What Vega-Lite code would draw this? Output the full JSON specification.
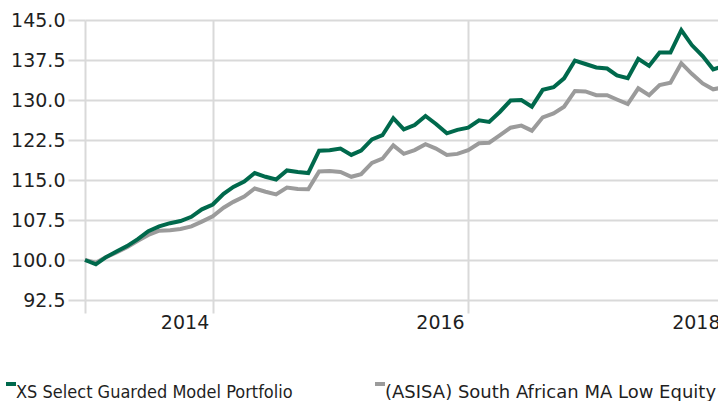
{
  "$schema": "https://vega.github.io/schema/vega-lite/v6.json",
  "autosize": "none",
  "width": 639,
  "height": 280,
  "padding": {"left": 85, "top": 20, "right": 0, "bottom": 101},
  "background": "white",
  "config": {
    "view": {"stroke": null},
    "font": "DejaVu Sans"
  },
  "data": {
    "values": [
      {"date": "2013-01-01", "xs": 100.0, "asisa": 100.0},
      {"date": "2013-02-01", "xs": 99.2, "asisa": 99.5},
      {"date": "2013-03-01", "xs": 100.5, "asisa": 100.5},
      {"date": "2013-04-01", "xs": 101.6, "asisa": 101.4},
      {"date": "2013-05-01", "xs": 102.6, "asisa": 102.4},
      {"date": "2013-06-01", "xs": 103.9, "asisa": 103.6},
      {"date": "2013-07-01", "xs": 105.4, "asisa": 104.7},
      {"date": "2013-08-01", "xs": 106.3, "asisa": 105.5},
      {"date": "2013-09-01", "xs": 106.9, "asisa": 105.6},
      {"date": "2013-10-01", "xs": 107.3, "asisa": 105.8},
      {"date": "2013-11-01", "xs": 108.1, "asisa": 106.3},
      {"date": "2013-12-01", "xs": 109.5, "asisa": 107.2},
      {"date": "2014-01-01", "xs": 110.4, "asisa": 108.2},
      {"date": "2014-02-01", "xs": 112.4, "asisa": 109.8},
      {"date": "2014-03-01", "xs": 113.7, "asisa": 110.9},
      {"date": "2014-04-01", "xs": 114.7, "asisa": 111.9},
      {"date": "2014-05-01", "xs": 116.3, "asisa": 113.4},
      {"date": "2014-06-01", "xs": 115.6, "asisa": 112.8},
      {"date": "2014-07-01", "xs": 115.1, "asisa": 112.3},
      {"date": "2014-08-01", "xs": 116.8, "asisa": 113.6},
      {"date": "2014-09-01", "xs": 116.5, "asisa": 113.3},
      {"date": "2014-10-01", "xs": 116.3, "asisa": 113.25},
      {"date": "2014-11-01", "xs": 120.5, "asisa": 116.6},
      {"date": "2014-12-01", "xs": 120.6, "asisa": 116.7},
      {"date": "2015-01-01", "xs": 120.9, "asisa": 116.5},
      {"date": "2015-02-01", "xs": 119.7, "asisa": 115.6},
      {"date": "2015-03-01", "xs": 120.5, "asisa": 116.1},
      {"date": "2015-04-01", "xs": 122.6, "asisa": 118.2},
      {"date": "2015-05-01", "xs": 123.4, "asisa": 119.0},
      {"date": "2015-06-01", "xs": 126.6, "asisa": 121.5},
      {"date": "2015-07-01", "xs": 124.5, "asisa": 119.9},
      {"date": "2015-08-01", "xs": 125.3, "asisa": 120.6},
      {"date": "2015-09-01", "xs": 127.0, "asisa": 121.7},
      {"date": "2015-10-01", "xs": 125.5, "asisa": 120.9},
      {"date": "2015-11-01", "xs": 123.75, "asisa": 119.7},
      {"date": "2015-12-01", "xs": 124.4, "asisa": 119.9},
      {"date": "2016-01-01", "xs": 124.8, "asisa": 120.6},
      {"date": "2016-02-01", "xs": 126.2, "asisa": 121.9},
      {"date": "2016-03-01", "xs": 125.9, "asisa": 122.0},
      {"date": "2016-04-01", "xs": 127.8, "asisa": 123.4},
      {"date": "2016-05-01", "xs": 129.9, "asisa": 124.8},
      {"date": "2016-06-01", "xs": 130.0, "asisa": 125.2},
      {"date": "2016-07-01", "xs": 128.75, "asisa": 124.25},
      {"date": "2016-08-01", "xs": 131.9, "asisa": 126.75},
      {"date": "2016-09-01", "xs": 132.4, "asisa": 127.5},
      {"date": "2016-10-01", "xs": 134.05, "asisa": 128.75},
      {"date": "2016-11-01", "xs": 137.4, "asisa": 131.7},
      {"date": "2016-12-01", "xs": 136.75, "asisa": 131.6},
      {"date": "2017-01-01", "xs": 136.1, "asisa": 130.9},
      {"date": "2017-02-01", "xs": 135.9, "asisa": 130.9},
      {"date": "2017-03-01", "xs": 134.6, "asisa": 130.1},
      {"date": "2017-04-01", "xs": 134.1, "asisa": 129.25},
      {"date": "2017-05-01", "xs": 137.7, "asisa": 132.2},
      {"date": "2017-06-01", "xs": 136.4, "asisa": 130.9},
      {"date": "2017-07-01", "xs": 138.9, "asisa": 132.8},
      {"date": "2017-08-01", "xs": 138.9, "asisa": 133.25},
      {"date": "2017-09-01", "xs": 143.1, "asisa": 136.9},
      {"date": "2017-10-01", "xs": 140.3, "asisa": 134.9},
      {"date": "2017-11-01", "xs": 138.25, "asisa": 133.1},
      {"date": "2017-12-01", "xs": 135.75, "asisa": 132.0},
      {"date": "2018-01-01", "xs": 136.4, "asisa": 132.4}
    ]
  },
  "transform": [
    {"fold": ["asisa", "xs"], "as": ["series", "value"]}
  ],
  "mark": {"type": "line", "strokeWidth": 4, "strokeJoin": "miter", "clip": false},
  "encoding": {
    "x": {
      "field": "date",
      "type": "temporal",
      "scale": {
        "type": "utc",
        "domain": [
          {"year": 2013, "month": 1, "date": 1, "utc": true},
          {"year": 2018, "month": 1, "date": 1, "utc": true}
        ]
      },
      "axis": {
        "title": null,
        "values": [
          {"year": 2013, "month": 1, "date": 1, "utc": true},
          {"year": 2014, "month": 1, "date": 1, "utc": true},
          {"year": 2016, "month": 1, "date": 1, "utc": true},
          {"year": 2018, "month": 1, "date": 1, "utc": true}
        ],
        "labelExpr": "utcyear(datum.value) == 2013 ? '' : utcFormat(datum.value, '%Y')",
        "domain": false,
        "grid": true,
        "gridColor": "#d9d9d9",
        "gridWidth": 2,
        "tickColor": "#d9d9d9",
        "tickWidth": 2,
        "tickSize": 13,
        "labelPadding": 0,
        "labelAlign": "right",
        "labelBaseline": "top",
        "labelOffset": -4,
        "labelFont": "DejaVu Sans",
        "labelFontSize": 19,
        "labelColor": "#1f1f1f",
        "labelFlush": false,
        "labelOverlap": false
      }
    },
    "y": {
      "field": "value",
      "type": "quantitative",
      "scale": {"domain": [92.5, 145], "nice": false, "zero": false},
      "axis": {
        "title": null,
        "values": [92.5, 100, 107.5, 115, 122.5, 130, 137.5, 145],
        "format": ".1f",
        "domain": false,
        "grid": true,
        "gridColor": "#d9d9d9",
        "gridWidth": 2,
        "tickColor": "#d9d9d9",
        "tickWidth": 2,
        "tickSize": 17,
        "labelPadding": 3,
        "labelFont": "DejaVu Sans",
        "labelFontSize": 19,
        "labelColor": "#1f1f1f",
        "labelOverlap": false
      }
    },
    "color": {
      "field": "series",
      "type": "nominal",
      "scale": {"domain": ["xs", "asisa"], "range": ["#00694c", "#9b9b9b"]},
      "legend": {
        "title": null,
        "orient": "none",
        "legendX": -83,
        "legendY": 355,
        "direction": "horizontal",
        "columns": 2,
        "columnPadding": 74,
        "padding": 0,
        "symbolType": "stroke",
        "symbolSize": 100,
        "symbolStrokeWidth": 4,
        "labelOffset": -4,
        "labelLimit": 500,
        "labelFont": "DejaVu Sans Condensed, DejaVu Sans",
        "labelFontSize": 18,
        "labelColor": "#1f1f1f",
        "labelBaseline": "top",
        "labelExpr": "datum.value == 'xs' ? 'XS Select Guarded Model Portfolio' : '(ASISA) South African MA Low Equity'",
        "encode": {
          "labels": {
            "update": {
              "font": {"signal": "datum.value == 'asisa' ? 'DejaVu Sans' : 'DejaVu Sans Condensed'"}
            }
          }
        }
      }
    }
  }
}
